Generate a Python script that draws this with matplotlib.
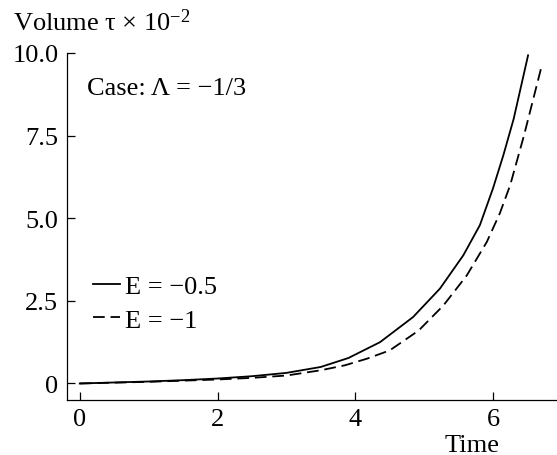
import matplotlib
matplotlib.use("Agg")
import matplotlib.pyplot as plt

# solid curve, E = -0.5
t_a = [0.0, 0.5, 1.0, 1.5, 2.0, 2.5, 3.0, 3.5, 3.9, 4.36, 4.84, 5.23, 5.57, 5.81, 6.0, 6.15, 6.3, 6.51]
v_a = [0.0, 0.03, 0.06, 0.1, 0.15, 0.22, 0.32, 0.5, 0.77, 1.25, 2.01, 2.87, 3.88, 4.79, 5.9, 6.9, 8.0, 9.93]

# dashed curve, E = -1
t_b = [0.0, 1.0, 2.0, 2.5, 3.0, 3.5, 3.85, 4.17, 4.5, 4.92, 5.28, 5.62, 5.91, 6.1, 6.25, 6.45, 6.71]
v_b = [0.0, 0.05, 0.12, 0.17, 0.24, 0.4, 0.55, 0.75, 1.0, 1.6, 2.36, 3.27, 4.28, 5.15, 6.0, 7.5, 9.63]

xticks = [0, 2, 4, 6]
yticks = [0, 2.5, 5.0, 7.5, 10.0]
ytick_labels = ["0", "2.5", "5.0", "7.5", "10.0"]

plt.rcParams["font.family"] = ["Liberation Serif", "DejaVu Serif"]
plt.rcParams["mathtext.fontset"] = "custom"
plt.rcParams["mathtext.rm"] = "Liberation Serif"
plt.rcParams["mathtext.it"] = "Liberation Serif:italic"
FS = 19

W, H = 557, 456
fig = plt.figure(figsize=(W / 100, H / 100), dpi=100)
ax = fig.add_axes([66.7 / W, 55 / H, (W - 66.7) / W, (401 - 54) / H])

ax.plot(t_a, v_a, color="black", lw=1.3, label="E = \u22120.5")
ax.plot(t_b, v_b, color="black", lw=1.3, dashes=(6.5, 3.2), label="E = \u22121")

ax.set_xlim(-0.19, 6.93)
ax.set_ylim(-0.5, 10.0)
ax.set_xticks(xticks)
ax.set_xticklabels([str(x) for x in xticks])
ax.set_yticks(yticks)
ax.set_yticklabels(ytick_labels)
ax.tick_params(direction="in", length=6, width=0.9, labelsize=FS)
ax.tick_params(axis="x", pad=6)
ax.tick_params(axis="y", pad=6)
for s in ["top", "right"]:
    ax.spines[s].set_visible(False)
for s in ["left", "bottom"]:
    ax.spines[s].set_linewidth(0.9)

ax.legend(loc="upper left", bbox_to_anchor=((92.7 - 66.7) / (W - 66.7), (401 - 276) / (401 - 54)),
          frameon=False, fontsize=FS, handlelength=1.02, handletextpad=0.22,
          labelspacing=0.37, borderaxespad=0, borderpad=0)

fig.text(13 / W, 1 - 31 / H, "Volume \u03c4 \u00d7 10$^{\u22122}$", fontsize=FS, va="baseline")
fig.text(87 / W, 1 - 95 / H, "Case: \u039b = \u22121/3", fontsize=FS, va="baseline")
fig.text(472 / W, 1 - 452 / H, "Time", fontsize=FS, va="baseline", ha="center")

fig.savefig("out.png", dpi=100)
